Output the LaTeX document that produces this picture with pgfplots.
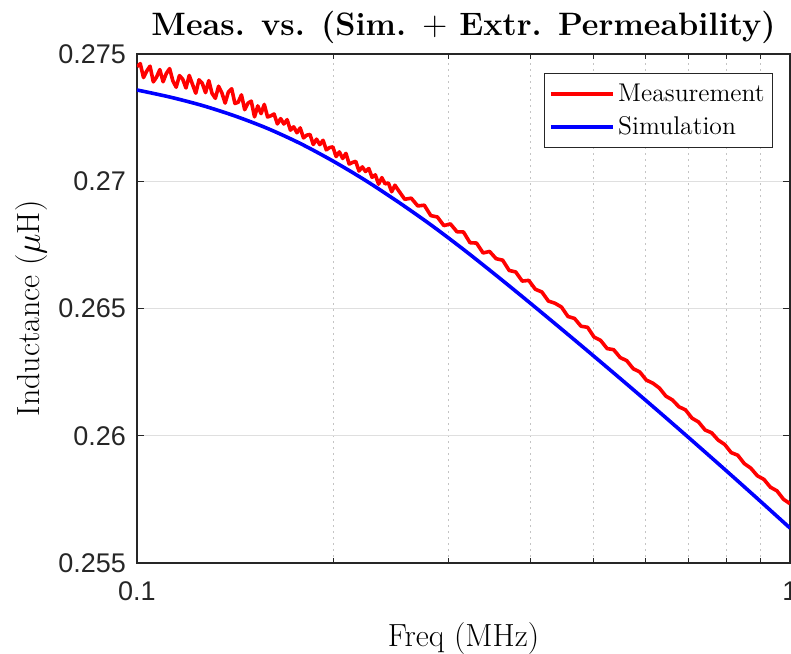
\documentclass[border=0pt]{standalone}
\usepackage{fontspec}
\usepackage{pgfplots}
\usepackage{pgfplotstable}
\pgfplotsset{compat=1.18}
\newfontfamily\arialfont{Liberation Sans}
\definecolor{axgray}{RGB}{38,38,38}
\definecolor{gridgray}{RGB}{223,223,223}
\definecolor{minorgray}{RGB}{196,196,196}

\pgfplotstableread{
f L
0.10000 0.274503
0.10116 0.274621
0.10233 0.274075
0.10351 0.274333
0.10471 0.274522
0.10593 0.273905
0.10715 0.274093
0.10839 0.274387
0.10965 0.273910
0.11092 0.274239
0.11220 0.274427
0.11350 0.273939
0.11482 0.273695
0.11615 0.274152
0.11749 0.274013
0.11885 0.273665
0.12023 0.274157
0.12162 0.273808
0.12303 0.273460
0.12445 0.273986
0.12589 0.273848
0.12735 0.273482
0.12882 0.273956
0.13031 0.273450
0.13183 0.273259
0.13335 0.273733
0.13490 0.273472
0.13646 0.273071
0.13804 0.273510
0.13964 0.273634
0.14125 0.273058
0.14289 0.273104
0.14454 0.273395
0.14621 0.272811
0.14791 0.273067
0.14962 0.273149
0.15136 0.272530
0.15311 0.272961
0.15488 0.272657
0.15667 0.273018
0.15849 0.272524
0.16033 0.272573
0.16218 0.272642
0.16406 0.272252
0.16596 0.272461
0.16788 0.272250
0.16982 0.272419
0.17179 0.272008
0.17378 0.272138
0.17579 0.271907
0.17783 0.272096
0.17989 0.271703
0.18197 0.271811
0.18408 0.271838
0.18621 0.271446
0.18837 0.271653
0.19055 0.271440
0.19276 0.271608
0.19498 0.271235
0.19724 0.271323
0.19953 0.271350
0.20184 0.270971
0.20417 0.271153
0.20653 0.270894
0.20893 0.271096
0.21135 0.270677
0.21380 0.270738
0.21628 0.270780
0.21878 0.270401
0.22131 0.270563
0.22387 0.270384
0.22646 0.270500
0.22909 0.270155
0.23174 0.270251
0.23442 0.269886
0.23713 0.270142
0.23988 0.269898
0.24266 0.269933
0.24547 0.269589
0.24831 0.269844
0.25119 0.269655
0.25704 0.269292
0.26303 0.269334
0.26915 0.269031
0.27542 0.269058
0.28184 0.268650
0.28840 0.268596
0.29512 0.268257
0.30200 0.268324
0.30903 0.268015
0.31623 0.268006
0.32359 0.267586
0.33113 0.267571
0.33884 0.267182
0.34674 0.267242
0.35481 0.266957
0.36308 0.266899
0.37154 0.266495
0.38019 0.266437
0.38905 0.266078
0.39811 0.266104
0.40738 0.265756
0.41687 0.265650
0.42658 0.265292
0.43652 0.265208
0.44668 0.265058
0.45709 0.264686
0.46774 0.264610
0.47863 0.264304
0.48978 0.264261
0.50119 0.263878
0.51286 0.263745
0.52481 0.263425
0.53703 0.263381
0.54954 0.263072
0.56234 0.262951
0.57544 0.262633
0.58884 0.262505
0.60256 0.262187
0.61660 0.262066
0.63096 0.261874
0.64565 0.261556
0.66069 0.261407
0.67608 0.261138
0.69183 0.261017
0.70795 0.260692
0.72444 0.260540
0.74131 0.260227
0.75858 0.260116
0.77625 0.259831
0.79433 0.259658
0.81283 0.259338
0.83176 0.259235
0.85114 0.258907
0.87096 0.258727
0.89125 0.258428
0.91201 0.258287
0.93325 0.257978
0.95499 0.257836
0.97724 0.257506
1.00000 0.257330
}\meas

% simulation
\pgfplotstableread{
f L
0.10000 0.273586
0.11220 0.273311
0.12589 0.272977
0.14125 0.272565
0.15849 0.272074
0.17783 0.271485
0.19953 0.270797
0.22387 0.270031
0.25119 0.269187
0.28184 0.268288
0.31623 0.267321
0.35481 0.266304
0.39811 0.265259
0.44668 0.264195
0.50119 0.263119
0.56234 0.262031
0.63096 0.260929
0.70795 0.259811
0.79433 0.258680
0.89125 0.257534
1.00000 0.256373
}\simul

\begin{document}
\begin{tikzpicture}
\begin{axis}[
  scale only axis,
  width=326.5pt, height=254.5pt,
  xmode=log,
  xmin=0.1, xmax=1,
  ymin=0.255, ymax=0.275,
  xtick={0.1,1}, xticklabels={0.1,1},
  minor xtick={0.2,0.3,0.4,0.5,0.6,0.7,0.8,0.9},
  ytick={0.255,0.26,0.265,0.27,0.275},
  yticklabels={0.255,0.26,0.265,0.27,0.275},
  tick align=inside,
  major tick length=3.5pt, minor tick length=2.5pt,
  tick style={axgray, line width=0.5pt},
  axis line style={axgray, line width=0.6pt},
  tick label style={font=\arialfont\fontsize{13.5}{16}\selectfont, text=axgray},
  xticklabel style={yshift=-6pt},
  yticklabel style={xshift=-2pt},
  ymajorgrids=true, xmajorgrids=true, xminorgrids=true,
  major grid style={gridgray, line width=0.5pt},
  minor grid style={minorgray, line width=0.5pt, dash pattern=on 0.8pt off 2.2pt},
  title={Meas. vs. (Sim. $+$ Extr. Permeability)},
  title style={at={(axis description cs:0.5,1.0118)}, anchor=base,
    font=\bfseries\fontsize{16.2}{19}\selectfont},
  xlabel={Freq (MHz)},
  xlabel style={at={(axis description cs:0.5,-0.1631)}, anchor=base,
    font=\fontsize{16}{19}\selectfont},
  ylabel={Inductance ($\mu$H)},
  ylabel style={at={(axis description cs:-0.1486,0.5)}, anchor=base,
    font=\fontsize{16}{19}\selectfont},
  legend cell align=left,
  legend image code/.code={\draw[#1, line width=1.8pt] (0pt,0pt) -- (31pt,0pt);},
  legend style={at={(1,1)}, anchor=north east, xshift=-8.5pt, yshift=-9.5pt,
    draw=axgray, line width=0.5pt, fill=white,
    font=\fontsize{12.8}{15}\selectfont,
    inner xsep=2.15pt, inner ysep=3.3pt, row sep=2.5pt,
    nodes={inner sep=1.8pt}},
]
\addplot[red, line width=1.8pt, line join=round] table[x=f, y=L] {\meas};
\addlegendentry{Measurement}
\addplot[blue, line width=1.8pt, smooth] table[x=f, y=L] {\simul};
\addlegendentry{Simulation}
\end{axis}
\pgfresetboundingbox
\path[use as bounding box] ([xshift=-68.5pt,yshift=-45pt]current axis.south west)
  rectangle ([xshift=0.5pt,yshift=27pt]current axis.north east);
\end{tikzpicture}
\end{document}
